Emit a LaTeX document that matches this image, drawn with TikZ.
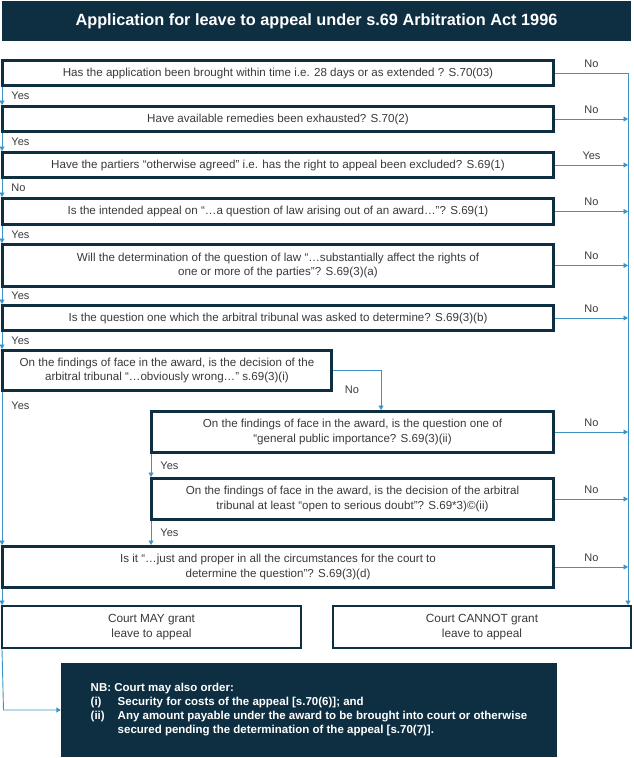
\documentclass[tikz,border=0pt]{standalone}
\usepackage{fontspec}
\setmainfont{Liberation Sans}
\usetikzlibrary{arrows.meta,calc}
\definecolor{navy}{HTML}{0E2E42}
\definecolor{flow}{HTML}{3B93C6}
\definecolor{txt}{HTML}{3A3A3A}
\begin{document}
\begin{tikzpicture}[x=1pt,y=-1pt,
  qbox/.style={draw=navy, line width=2.8pt, fill=white, text=txt, align=center,
    font=\fontsize{11.6}{14.5}\selectfont, inner sep=0pt},
  cbox/.style={draw=navy, line width=2.4pt, fill=white, text=txt, align=center,
    font=\fontsize{11.8}{14.5}\selectfont, inner sep=0pt},
  darkbox/.style={fill=navy, text=white, inner sep=0pt},
  flowline/.style={draw=flow, line width=0.9pt},
  arr/.style={flowline, -{Triangle[length=4.5pt,width=5pt]}},
  lbl/.style={text=txt, font=\fontsize{11}{12}\selectfont, inner sep=0pt},
]
\useasboundingbox (0,0) rectangle (633,758);

% title
\node[darkbox, minimum width=629pt, minimum height=40pt,
  font=\bfseries\fontsize{16.3}{18}\selectfont] (title) at (316.5,21)
  {Application for leave to appeal under s.69 Arbitration Act 1996};

% question boxes
\node[qbox, minimum width=551.2pt, minimum height=25.2pt] (b1) at (278,73)
  {Has the application been brought within time i.e. 28 days or as extended ? S.70(03)};
\node[qbox, minimum width=551.2pt, minimum height=25.2pt] (b2) at (278,119)
  {Have available remedies been exhausted? S.70(2)};
\node[qbox, minimum width=551.2pt, minimum height=25.2pt] (b3) at (278,165)
  {Have the partiers “otherwise agreed” i.e. has the right to appeal been excluded? S.69(1)};
\node[qbox, minimum width=551.2pt, minimum height=26.2pt] (b4) at (278,211.5)
  {Is the intended appeal on “…a question of law arising out of an award…”? S.69(1)};
\node[qbox, minimum width=551.2pt, minimum height=42.2pt] (b5) at (278,265.5)
  {Will the determination of the question of law “…substantially affect the rights of\\
   one or more of the parties”? S.69(3)(a)};
\node[qbox, minimum width=551.2pt, minimum height=25.2pt] (b6) at (278,318)
  {Is the question one which the arbitral tribunal was asked to determine? S.69(3)(b)};
\node[qbox, minimum width=329.2pt, minimum height=40.2pt] (b7) at (167,370.5)
  {On the findings of face in the award, is the decision of the\\
   arbitral tribunal “…obviously wrong…” s.69(3)(i)};
\node[qbox, minimum width=402.2pt, minimum height=41.2pt] (b8) at (352.5,432)
  {On the findings of face in the award, is the question one of\\
   “general public importance? S.69(3)(ii)};
\node[qbox, minimum width=402.2pt, minimum height=41.2pt] (b9) at (352.5,499)
  {On the findings of face in the award, is the decision of the arbitral\\
   tribunal at least “open to serious doubt”? S.69*3)©(ii)};
\node[qbox, minimum width=551.2pt, minimum height=41.2pt] (b10) at (278,567)
  {Is it “…just and proper in all the circumstances for the court to\\
   determine the question”? S.69(3)(d)};

% outcomes
\node[cbox, minimum width=298.6pt, minimum height=41.6pt] (b11) at (151.5,627)
  {Court MAY grant\\leave to appeal};
\node[cbox, minimum width=297.6pt, minimum height=41.6pt] (b12) at (482,627)
  {Court CANNOT grant\\leave to appeal};

% note
\node[darkbox, minimum width=496pt, minimum height=94pt, align=left,
  font=\bfseries\fontsize{11.5}{14}\selectfont] (b13) at (309,710)
  {NB: Court may also order:\\
   \makebox[27pt][l]{(i)}Security for costs of the appeal [s.70(6)]; and\\
   \makebox[27pt][l]{(ii)}Any amount payable under the award to be brought into court or otherwise\\
   \hspace*{27pt}secured pending the determination of the appeal [s.70(7)].};

% left "Yes/No" chain
\draw[arr] ([xshift=1pt]b1.south west) -- node[lbl, right=9pt] {Yes} ([xshift=1pt]b2.north west);
\draw[arr] ([xshift=1pt]b2.south west) -- node[lbl, right=9pt] {Yes} ([xshift=1pt]b3.north west);
\draw[arr] ([xshift=1pt]b3.south west) -- node[lbl, right=9pt] {No} ([xshift=1pt]b4.north west);
\draw[arr] ([xshift=1pt]b4.south west) -- node[lbl, right=9pt] {Yes} ([xshift=1pt]b5.north west);
\draw[arr] ([xshift=1pt]b5.south west) -- node[lbl, right=9pt] {Yes} ([xshift=1pt]b6.north west);
\draw[arr] ([xshift=1pt]b6.south west) -- node[lbl, right=9pt] {Yes} ([xshift=1pt]b7.north west);
\draw[arr] ([xshift=1pt]b7.south west) -- node[lbl, right=9pt, pos=0.09] {Yes} ([xshift=1pt]b10.north west);
\draw[arr] ([xshift=1pt]b8.south west) -- node[lbl, right=9pt] {Yes} ([xshift=1pt]b9.north west);
\coordinate (b9l) at ([xshift=1pt]b9.south west);
\draw[arr] (b9l) -- node[lbl, right=9pt] {Yes} (b9l |- b10.north);
\draw[arr] ([xshift=1pt]b10.south west) -- ([xshift=1pt]b11.north west);

% b7 -> b8
\coordinate (jog) at (381,0);
\draw[arr] (b7.east) -| (b8.north -| jog);
\node[lbl] (no7) at ([xshift=19pt,yshift=-19.5pt]b7.east) {No};

% right rail
\coordinate (rail) at (628,73);
\draw[flowline] (b1.east) -- node[lbl, above=5pt, pos=0.5] {No} (rail);
\draw[arr] (rail) -- (rail |- b12.north);
\draw[arr] (b2.east) -- node[lbl, above=5pt, pos=0.5] {No} (b2.east -| rail);
\draw[arr] (b3.east) -- node[lbl, above=5pt, pos=0.5] {Yes} (b3.east -| rail);
\draw[arr] (b4.east) -- node[lbl, above=5pt, pos=0.5] {No} (b4.east -| rail);
\draw[arr] (b5.east) -- node[lbl, above=5pt, pos=0.5] {No} (b5.east -| rail);
\draw[arr] (b6.east) -- node[lbl, above=5pt, pos=0.5] {No} (b6.east -| rail);
\draw[arr] (b8.east) -- node[lbl, above=5pt, pos=0.5] {No} (b8.east -| rail);
\draw[arr] (b9.east) -- node[lbl, above=5pt, pos=0.5] {No} (b9.east -| rail);
\draw[arr] (b10.east) -- node[lbl, above=5pt, pos=0.5] {No} (b10.east -| rail);

% b11 -> note
\coordinate (nbcorner) at (3.5,710);
\draw[arr] ([xshift=1pt]b11.south west) -- (nbcorner) -- (b13.west);
\end{tikzpicture}
\end{document}
